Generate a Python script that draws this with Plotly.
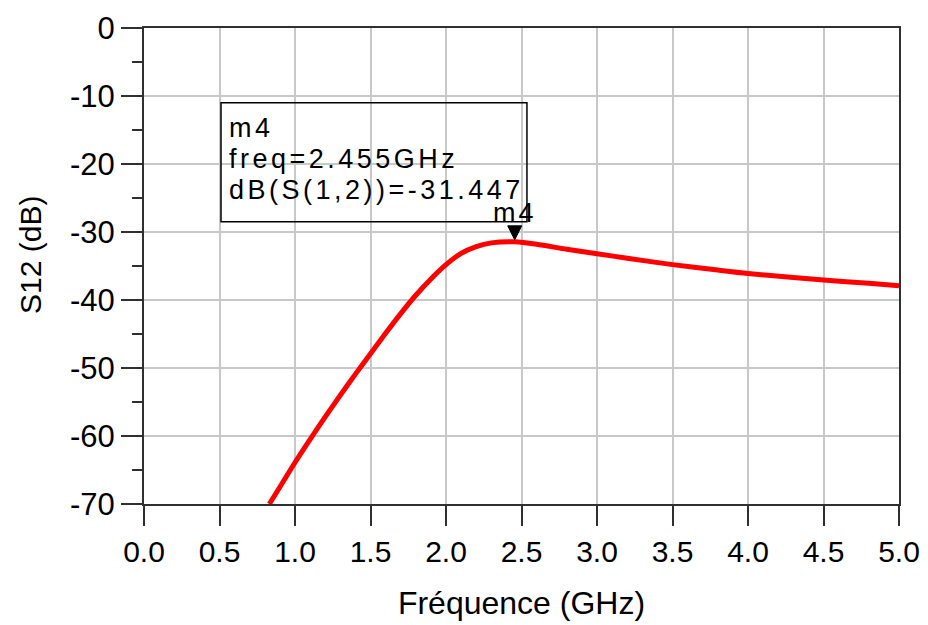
import plotly.graph_objects as go

# Data
freq_ghz = [0.83, 0.9, 1.0, 1.1, 1.2, 1.3, 1.4, 1.5, 1.6, 1.7, 1.8, 1.9, 2.0,
            2.1, 2.2, 2.3, 2.455, 2.6, 2.8, 3.0, 3.2, 3.5, 3.8, 4.0, 4.3, 4.5,
            4.8, 5.0]
s12_db = [-70.0, -67.5, -63.9, -60.5, -57.2, -54.0, -50.9, -47.9, -44.9, -42.0,
          -39.3, -36.9, -34.8, -33.15, -32.15, -31.6, -31.447, -31.8, -32.55,
          -33.2, -33.85, -34.8, -35.6, -36.1, -36.7, -37.05, -37.55, -37.9]

marker_name = "m4"
marker_freq = 2.455
marker_val = -31.447
readout_lines = [marker_name, f"freq={marker_freq}GHz", f"dB(S(1,2))={marker_val}"]

x_ticks = [0.0, 0.5, 1.0, 1.5, 2.0, 2.5, 3.0, 3.5, 4.0, 4.5, 5.0]
y_ticks = [0, -10, -20, -30, -40, -50, -60, -70]

FONT = "Liberation Sans, Arial, sans-serif"
AXC = "#303030"


def wide(s, px):
    return f'<span style="letter-spacing:{px}px">{s}</span>'


fig = go.Figure()
fig.add_trace(go.Scatter(
    x=freq_ghz, y=s12_db, mode="lines",
    line=dict(color="#ff0000", width=5, shape="spline", smoothing=0.8),
    showlegend=False, hoverinfo="x+y",
))

# marker triangle (pixel-sized path anchored at the marker point)
fig.add_shape(
    type="path", xref="x", yref="y",
    xsizemode="pixel", ysizemode="pixel",
    xanchor=marker_freq, yanchor=marker_val,
    path="M -7,16 L 7,16 L 0,2 Z",
    fillcolor="black", line=dict(color="black", width=1),
)
fig.add_annotation(
    x=marker_freq, y=marker_val, xref="x", yref="y",
    text=wide(marker_name, 3), showarrow=False,
    xanchor="center", yanchor="bottom", yshift=12,
    font=dict(family=FONT, size=27, color="black"),
)

# marker readout box
fig.add_shape(
    type="rect", xref="x", yref="y",
    x0=0.51, x1=2.536, y0=-11.0, y1=-28.5,
    line=dict(color="black", width=1.5), fillcolor="rgba(0,0,0,0)",
)
for i, line_text in enumerate(readout_lines):
    fig.add_annotation(
        x=0.51, y=-11.0, xref="x", yref="y",
        text=wide(line_text, 3.5), showarrow=False, align="left",
        xanchor="left", yanchor="top",
        xshift=6, yshift=-8 - 31 * i,
        font=dict(family=FONT, size=27, color="black"),
    )

# y-axis title placed as in the reference (slightly above centre)
fig.add_annotation(
    x=0, y=0.5, xref="paper", yref="paper",
    text="S12 (dB)", textangle=-90, showarrow=False,
    xanchor="center", yanchor="middle", xshift=-114, yshift=11,
    font=dict(family=FONT, size=30, color="black"),
)

fig.update_layout(
    width=920, height=617, autosize=False,
    margin=dict(l=136, r=29, t=20, b=121),
    paper_bgcolor="white", plot_bgcolor="white",
    font=dict(family=FONT, color="black"),
    xaxis=dict(
        range=[0, 5], tickvals=x_ticks,
        ticktext=[f"{v:.1f}" for v in x_ticks],
        ticks="outside", ticklen=20, tickwidth=2, tickcolor=AXC,
        showline=True, linecolor=AXC, linewidth=2, mirror=True,
        showgrid=True, gridcolor="#c8c8c8", gridwidth=1.5,
        zeroline=False, automargin=False,
        tickfont=dict(family=FONT, size=30, color="black"),
        title=dict(text="Fréquence (GHz)", standoff=25,
                   font=dict(family=FONT, size=32, color="black")),
    ),
    yaxis=dict(
        range=[-70, 0], tickvals=y_ticks,
        ticktext=[str(v) for v in y_ticks],
        ticks="outside", ticklen=21, tickwidth=2, tickcolor=AXC,
        minor=dict(dtick=5, tick0=0, ticks="outside", ticklen=10,
                   tickwidth=2, tickcolor=AXC, showgrid=False),
        showline=True, linecolor=AXC, linewidth=2, mirror=True,
        showgrid=True, gridcolor="#c8c8c8", gridwidth=1.5,
        zeroline=False, automargin=False,
        tickfont=dict(family=FONT, size=31, color="black"),
    ),
)

fig.write_html("out.html")
